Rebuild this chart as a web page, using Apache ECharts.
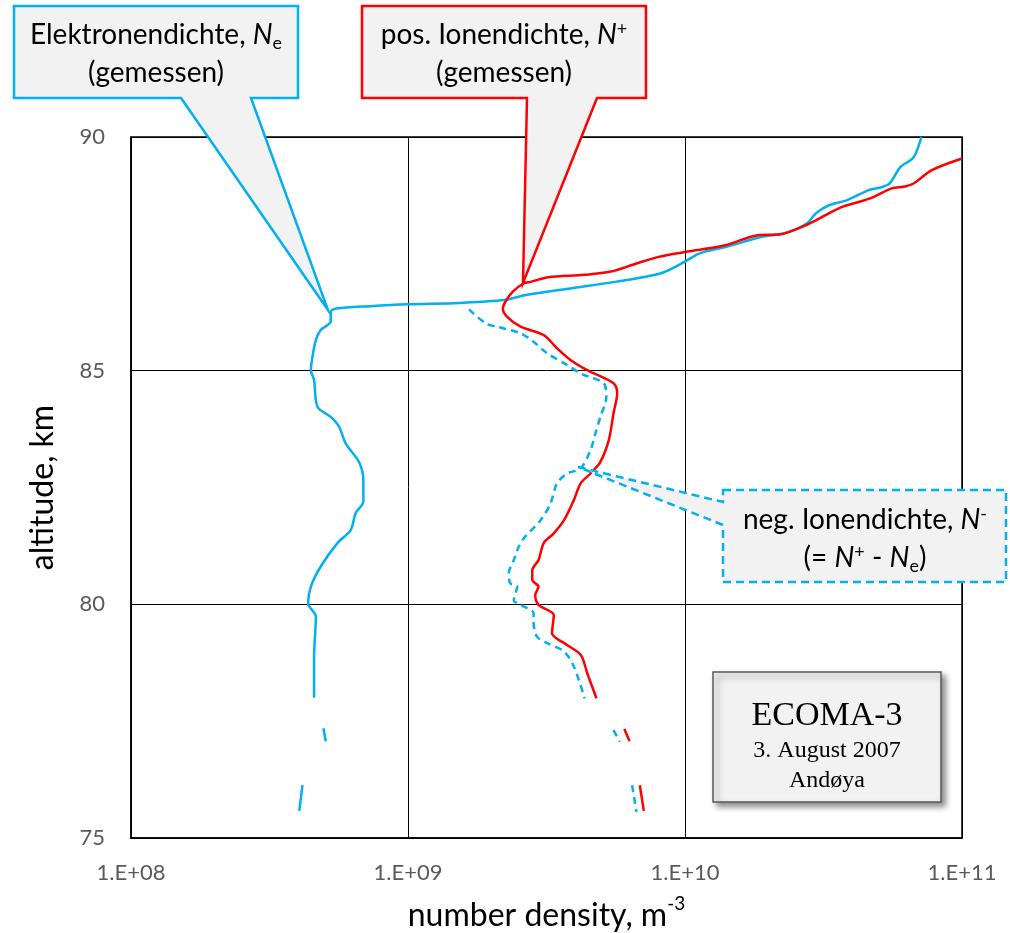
<!DOCTYPE html>
<html>
<head>
    <meta charset="utf-8">
    <title>ECOMA-3 Dichteprofile</title>
    <script src="https://cdn.jsdelivr.net/npm/echarts@6/dist/echarts.min.js"></script>
    <style>
        html, body { margin: 0; padding: 0; background: #fff; }
        #main { width: 1010px; height: 933px; }
    </style>
</head>
<body>
<div id="main"></div>
<script type="text/javascript">
    // Hoehe (km) und Dichte (m^-3); null = Luecke in der Messung
    var neAlt = [90.0, 89.66, 89.52, 89.36, 89.0, 88.92, 88.87, 88.65, 88.54, 88.37, 88.15, 87.94, 87.87, 87.65, 87.51,
        87.3, 87.08, 86.9, 86.76, 86.62, 86.51, 86.45, 86.42, 86.38, 86.33, 86.26, 86.05, 85.87, 85.66, 85.3, 85.01,
        84.8, 84.23, 84.01, 83.8, 83.44, 83.05, 82.66, 82.2, 81.95, 81.59, 81.31, 80.81, 80.38, 80.02, 79.74, 78.88,
        78.0, null, 77.35, 77.07, null, 76.13, 75.58];
    var neVal = [7.14e10, 6.82e10, 6.58e10, 6.0e10, 5.47e10, 5.08e10, 4.63e10, 3.85e10, 3.31e10, 2.97e10, 2.75e10,
        2.29e10, 1.91e10, 1.41e10, 1.13e10, 9.77e9, 8.13e9, 5.6e9, 3.86e9, 2.67e9, 2.22e9, 1.53e9, 1.0e9, 7.3e8, 5.52e8,
        5.26e8, 5.26e8, 4.84e8, 4.65e8, 4.52e8, 4.46e8, 4.58e8, 4.71e8, 5.26e8, 5.64e8, 5.96e8, 6.65e8, 6.9e8, 6.9e8,
        6.47e8, 6.21e8, 5.56e8, 4.84e8, 4.46e8, 4.36e8, 4.65e8, 4.58e8, 4.58e8, null, 4.95e8, 5.05e8, null, 4.16e8, 4.05e8];

    var npAlt = [89.54, 89.29, 89.01, 88.94, 88.9, 88.72, 88.62, 88.51, 88.37, 88.12, 87.92, 87.9, 87.69, 87.62, 87.53,
        87.44, 87.3, 87.12, 87.05, 87.0, 86.9, 86.87, 86.69, 86.48, 86.33, 86.15, 85.94, 85.76, 85.48, 85.23, 85.01,
        84.73, 84.51, 84.09, 83.52, 83.05, 82.8, 82.59, 82.23, 81.8, 81.52, 81.31, 80.95, 80.73, 80.52, 80.38, 80.2,
        79.99, 79.77, 79.38, 79.17, 78.92, 78.52, 77.99, null, 77.33, 77.07, null, 76.13, 75.58];
    var npVal = [1.0e11, 7.78e10, 6.71e10, 6.22e10, 5.57e10, 4.81e10, 4.3e10, 3.71e10, 3.32e10, 2.75e10, 2.21e10,
        1.83e10, 1.41e10, 1.22e10, 9.77e9, 8.11e9, 6.73e9, 5.4e9, 4.33e9, 3.21e9, 2.77e9, 2.62e9, 2.39e9, 2.25e9, 2.2e9,
        2.28e9, 2.55e9, 3.09e9, 3.45e9, 3.86e9, 4.44e9, 5.52e9, 5.69e9, 5.52e9, 5.31e9, 4.95e9, 4.56e9, 4.2e9, 3.97e9,
        3.66e9, 3.36e9, 3.09e9, 2.96e9, 2.81e9, 2.81e9, 2.96e9, 2.88e9, 2.96e9, 3.36e9, 3.31e9, 3.66e9, 4.2e9, 4.44e9,
        4.79e9, null, 6.04e9, 6.31e9, null, 6.87e9, 7.1e9];

    var nmAlt = [86.31, 86.01, 85.94, 85.8, 85.62, 85.37, 85.12, 84.94, 84.73, 84.44, 84.01, 83.66, 83.3, 82.91, 82.8,
        82.59, 82.16, 81.8, 81.45, 81.23, 80.95, 80.66, 80.45, 80.38, 80.09, 79.99, 79.81, 79.63, 79.31, 79.17, 78.99,
        78.67, 77.99, null, 77.31, 77.06, null, 76.13, 75.56];
    var nmVal = [1.66e9, 1.91e9, 2.1e9, 2.55e9, 2.84e9, 3.18e9, 3.76e9, 4.2e9, 5.09e9, 5.2e9, 4.95e9, 4.75e9, 4.56e9,
        4.2e9, 3.76e9, 3.45e9, 3.27e9, 3.01e9, 2.65e9, 2.51e9, 2.41e9, 2.31e9, 2.34e9, 2.48e9, 2.41e9, 2.55e9, 2.84e9,
        2.84e9, 2.92e9, 3.18e9, 3.66e9, 3.97e9, 4.34e9, null, 5.52e9, 5.81e9, null, 6.44e9, 6.68e9];

    var xTickLabels = ['1.E+08', '1.E+09', '1.E+10', '1.E+11'];
    var yTicks = [75, 80, 85, 90];

    function toPairs(alt, val) {
        return alt.map(function (a, i) {
            return a == null ? '-' : [val[i], a];
        });
    }

    var blue = '#00b0f0';
    var red = '#ff0000';
    var font = 'Lato, "Open Sans", sans-serif';

    var myChart = echarts.init(document.getElementById('main'));

    function calloutText(x, y, text, rich) {
        return {
            type: 'text', x: x, y: y, z: 20,
            style: {
                text: text, rich: rich, align: 'center', verticalAlign: 'middle',
                font: '28px ' + font, fill: '#000'
            }
        };
    }

    var richBase = {
        t: {fontSize: 28, fontFamily: font, color: '#000', lineHeight: 40, verticalAlign: 'middle'},
        i: {fontSize: 28, fontFamily: font, fontStyle: 'italic', color: '#000', lineHeight: 40, verticalAlign: 'middle'},
        sub: {fontSize: 18, fontFamily: font, color: '#000', lineHeight: 40, verticalAlign: 'bottom', padding: [0, 0, 3, 0]},
        sup: {fontSize: 18, fontFamily: font, color: '#000', lineHeight: 40, verticalAlign: 'top', padding: [5, 0, 0, 0]}
    };

    var option = {
        animation: false,
        grid: {
            left: 131, top: 137, width: 831, height: 701,
            outerBoundsMode: 'none', containLabel: false,
            show: true, borderColor: '#000', borderWidth: 1.5, backgroundColor: 'transparent'
        },
        xAxis: {
            type: 'log', logBase: 10, min: 1e8, max: 1e11,
            name: '{a|number density, m}{s|-3}',
            nameLocation: 'middle', nameGap: 56,
            nameTextStyle: {
                rich: {
                    a: {fontSize: 32, fontFamily: font, color: '#000', verticalAlign: 'bottom', lineHeight: 38},
                    s: {fontSize: 19, fontFamily: font, color: '#000', verticalAlign: 'top', lineHeight: 38}
                }
            },
            axisLine: {show: true, lineStyle: {color: '#000', width: 1.5}},
            axisTick: {show: false},
            splitLine: {show: true, lineStyle: {color: '#000', width: 1}},
            minorTick: {show: false},
            axisLabel: {
                color: '#595959', fontSize: 22, fontFamily: font, margin: 24,
                formatter: function (v) {
                    return xTickLabels[Math.round(Math.log10(v)) - 8];
                }
            }
        },
        yAxis: {
            type: 'value', min: yTicks[0], max: yTicks[yTicks.length - 1], interval: 5,
            name: 'altitude, km',
            nameLocation: 'middle', nameGap: 72,
            nameTextStyle: {fontSize: 32, fontFamily: font, color: '#000'},
            axisLine: {show: true, lineStyle: {color: '#000', width: 1.5}},
            axisTick: {show: false},
            splitLine: {show: true, lineStyle: {color: '#000', width: 1}},
            axisLabel: {color: '#595959', fontSize: 22, fontFamily: font, margin: 26}
        },
        series: [
            {
                name: 'Ne', type: 'line', data: toPairs(neAlt, neVal),
                showSymbol: false, smooth: 0.3, connectNulls: false, z: 5,
                lineStyle: {color: blue, width: 2.5}
            },
            {
                name: 'N-', type: 'line', data: toPairs(nmAlt, nmVal),
                showSymbol: false, smooth: 0.3, connectNulls: false, z: 4,
                lineStyle: {color: blue, width: 2.5, type: [7, 5]}
            },
            {
                name: 'N+', type: 'line', data: toPairs(npAlt, npVal),
                showSymbol: false, smooth: 0.3, connectNulls: false, z: 6,
                lineStyle: {color: red, width: 2.5}
            }
        ],
        graphic: [
            // Sprechblase Elektronendichte
            {
                type: 'polygon', z: 10,
                shape: {points: [[14, 6], [298, 6], [298, 98], [251, 98], [328, 310], [181, 98], [14, 98]]},
                style: {fill: '#f2f2f2', stroke: blue, lineWidth: 2.5}
            },
            calloutText(156, 35, '{t|Elektronendichte, }{i|N}{sub|e}', richBase),
            calloutText(156, 73, '{t|(gemessen)}', richBase),
            // Sprechblase pos. Ionendichte
            {
                type: 'polygon', z: 10,
                shape: {points: [[362, 6], [646, 6], [646, 98], [597, 98], [523, 283], [527, 98], [362, 98]]},
                style: {fill: '#f2f2f2', stroke: red, lineWidth: 2.5}
            },
            calloutText(504, 35, '{t|pos. Ionendichte, }{i|N}{sup|+}', richBase),
            calloutText(504, 73, '{t|(gemessen)}', richBase),
            // Sprechblase neg. Ionendichte
            {
                type: 'polygon', z: 10,
                shape: {points: [[723, 490], [1006, 490], [1006, 582], [723, 582], [723, 525], [578, 467], [723, 502]]},
                style: {fill: '#f2f2f2', stroke: blue, lineWidth: 2.5, lineDash: [8, 5]}
            },
            calloutText(865, 520, '{t|neg. Ionendichte, }{i|N}{sup|-}', richBase),
            calloutText(865, 558, '{t|(= }{i|N}{sup|+}{t| - }{i|N}{sub|e}{t|)}', richBase),
            // Infobox
            {
                type: 'rect', z: 10,
                shape: {x: 713, y: 672, width: 228, height: 130},
                style: {
                    fill: '#f2f2f2', stroke: '#595959', lineWidth: 1.5,
                    shadowBlur: 6, shadowOffsetX: 4, shadowOffsetY: 4, shadowColor: 'rgba(0,0,0,0.45)'
                }
            },
            {
                type: 'text', x: 827, y: 716, z: 20,
                style: {text: 'ECOMA-3', font: '34px "Liberation Serif", serif', fill: '#000', align: 'center', verticalAlign: 'middle'}
            },
            {
                type: 'text', x: 827, y: 751, z: 20,
                style: {text: '3. August 2007', font: '24px "Liberation Serif", serif', fill: '#000', align: 'center', verticalAlign: 'middle'}
            },
            {
                type: 'text', x: 827, y: 781, z: 20,
                style: {text: 'Andøya', font: '24px "Liberation Serif", serif', fill: '#000', align: 'center', verticalAlign: 'middle'}
            }
        ]
    };

    myChart.setOption(option);
</script>
</body>
</html>
